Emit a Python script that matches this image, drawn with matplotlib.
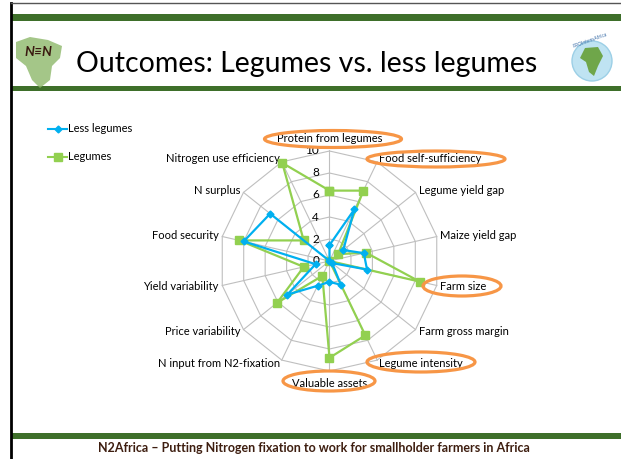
import numpy as np
import matplotlib
matplotlib.use("Agg")
import matplotlib.pyplot as plt
from matplotlib.patches import Ellipse, Rectangle, Circle, Polygon

plt.rcParams['font.family'] = ['Lato', 'DejaVu Sans']

# categories clockwise from the top
categories = ["Protein from legumes", "Food self-sufficiency", "Legume yield gap",
              "Maize yield gap", "Farm size", "Farm gross margin", "Legume intensity",
              "Valuable assets", "N input from N2-fixation", "Price variability",
              "Yield variability", "Food security", "N surplus",
              "Nitrogen use efficiency"]
less_legumes = [1.45, 5.2, 1.6, 3.2, 3.5, 0.3, 2.4, 1.9, 2.5, 4.9, 1.3, 8.0, 6.9, 0.0]
legumes = [6.4, 7.1, 1.0, 3.4, 8.4, 0.0, 7.5, 8.8, 1.5, 6.1, 2.4, 8.4, 3.0, 9.9]
ticks = [0, 2, 4, 6, 8, 10]
highlighted = ["Protein from legumes", "Food self-sufficiency", "Farm size",
               "Legume intensity", "Valuable assets"]

W, H = 621, 459
cx, cy, scale = 329.5, 261.0, 11.0   # pixel centre of radar, pixels per unit

fig = plt.figure(figsize=(W / 100, H / 100), dpi=100)

# slide background, pixel coordinates
bg = fig.add_axes([0, 0, 1, 1])
bg.set_xlim(0, W)
bg.set_ylim(H, 0)
bg.axis('off')

green_bar = '#3E6F2A'
bg.add_patch(Rectangle((11, 14), W - 11, 7, color=green_bar, lw=0))
bg.add_patch(Rectangle((11, 86), W - 11, 5, color=green_bar, lw=0))
bg.add_patch(Rectangle((11, 433), W - 11, 6, color=green_bar, lw=0))
bg.plot([11, 11], [3, H], color='black', lw=2)
bg.plot([11, W], [3, 3], color='#555555', lw=1)

bg.text(307, 64, "Outcomes: Legumes vs. less legumes", fontsize=20.5,
        ha='center', va='center', color='black')
bg.text(314, 448, "N2Africa \u2013 Putting Nitrogen fixation to work for smallholder farmers in Africa",
        fontsize=9, fontweight='bold', ha='center', va='center', color='#3E1E10')

# rough logos
bg.add_patch(Polygon([[16, 42], [30, 37], [48, 40], [62, 46], [60, 58], [52, 66],
                      [50, 80], [40, 88], [32, 80], [26, 66], [16, 58]],
                     closed=True, color='#8DB86A', alpha=0.8, lw=0))
bg.text(38, 52, "N\u2261N", fontsize=10, fontweight='bold', style='italic',
        ha='center', va='center', color='#3A1A10')
bg.add_patch(Circle((592, 61), 20, facecolor='#BFE3F2', edgecolor='#9CCFE6', lw=1))
bg.add_patch(Polygon([[585, 48], [598, 47], [603, 56], [598, 66], [594, 76], [589, 72],
                      [586, 62], [580, 58]], closed=True, color='#6FA64A', lw=0))
bg.text(590, 40, "PROIntensAfrica", fontsize=3.5, rotation=20, ha='center',
        va='center', color='#3B6EA8')

# legend
blue, green = '#00B0F0', '#92D050'
bg.plot([48, 58, 67], [129, 129, 129], color=blue, lw=1.5, marker='D',
        markersize=3.5, markevery=[1])
bg.plot([48, 58, 67], [157, 157, 157], color=green, lw=1.5, marker='s',
        markersize=6, markevery=[1])
bg.text(68, 129, "Less legumes", fontsize=8, va='center', ha='left')
bg.text(68, 157, "Legumes", fontsize=8, va='center', ha='left')

# radar axes in data units, centre at (cx, cy)
ax = fig.add_axes([0, 0, 1, 1])
ax.set_xlim(-cx / scale, (W - cx) / scale)
ax.set_ylim(-(H - cy) / scale, cy / scale)
ax.set_aspect('equal')
ax.axis('off')
ax.patch.set_alpha(0)

n = len(categories)
theta = 2 * np.pi * np.arange(n) / n
sx, sy = np.sin(theta), np.cos(theta)
rmax = ticks[-1]

for t in ticks[1:]:
    ax.plot(np.append(t * sx, t * sx[0]), np.append(t * sy, t * sy[0]),
            color='#BFBFBF', lw=0.8, zorder=1)
for i in range(n):
    ax.plot([0, rmax * sx[i]], [0, rmax * sy[i]], color='#BFBFBF', lw=0.8, zorder=1)

for t in ticks:
    ax.text(-0.95, t, str(t), fontsize=8.5, ha='right', va='center', zorder=2)

for i, name in enumerate(categories):
    if abs(sx[i]) < 0.1:
        r = rmax + 1.1
        ha = 'center'
    else:
        r = rmax + 0.35
        ha = 'left' if sx[i] > 0 else 'right'
    ax.text(r * sx[i], r * sy[i], name, fontsize=8, ha=ha, va='center', zorder=2)

v = np.array(less_legumes)
ax.plot(np.append(v * sx, v[0] * sx[0]), np.append(v * sy, v[0] * sy[0]),
        color=blue, lw=1.6, marker='D', markersize=3.5, zorder=4)
v = np.array(legumes)
ax.plot(np.append(v * sx, v[0] * sx[0]), np.append(v * sy, v[0] * sy[0]),
        color=green, lw=1.6, marker='s', markersize=6, zorder=3)

# orange highlight ellipses (pixel centre, width, height)
ellipses = {"Protein from legumes": (333, 139, 137, 17),
            "Food self-sufficiency": (436, 159, 138, 16),
            "Farm size": (462, 286, 78, 20),
            "Legume intensity": (421, 362, 108, 20),
            "Valuable assets": (329, 381, 92, 20)}
for name in highlighted:
    px, py, w, h = ellipses[name]
    ax.add_patch(Ellipse(((px - cx) / scale, (cy - py) / scale), w / scale, h / scale,
                         fill=False, edgecolor='#F79646', lw=2.3, zorder=5))

fig.savefig('out.png', dpi=100)
